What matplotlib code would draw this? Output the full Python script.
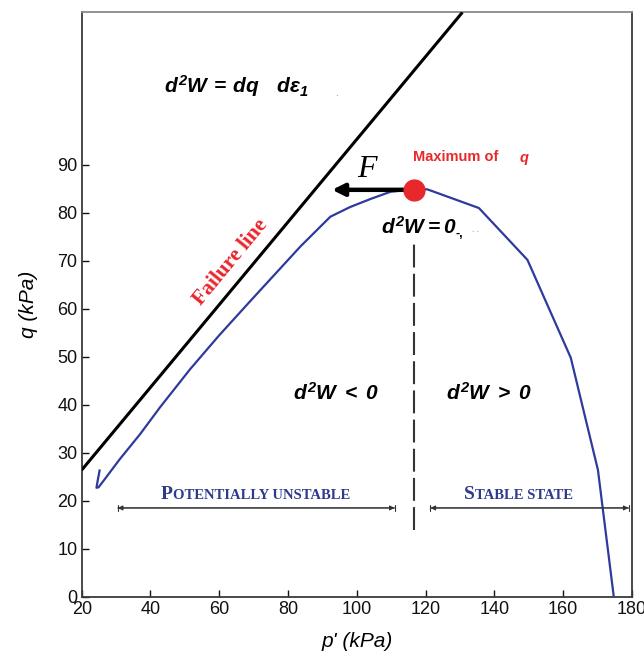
import matplotlib
matplotlib.use("Agg")
import matplotlib.pyplot as plt

plt.rcParams["font.family"] = ["Liberation Sans", "DejaVu Sans"]
plt.rcParams["mathtext.fontset"] = "custom"
plt.rcParams["mathtext.it"] = "Liberation Sans:bold:italic"
plt.rcParams["mathtext.rm"] = "Liberation Sans:bold:italic"
plt.rcParams["mathtext.bf"] = "Liberation Sans:bold:italic"

# Stress path (p', q) in kPa
p_path = [25.2, 24.5, 24.3, 24.9, 26.5, 31.0, 37.0, 42.8, 51.5, 60.0, 69.0, 76.3,
          83.6, 92.3, 98.0, 104.0, 109.8, 116.6, 120.5, 135.5, 149.6, 162.2, 170.1, 174.7]
q_path = [26.3, 23.6, 22.7, 22.8, 24.3, 28.6, 33.9, 39.5, 47.4, 54.5, 61.6, 67.3,
          73.0, 79.2, 81.2, 82.9, 84.4, 84.9, 84.9, 81.0, 70.2, 49.8, 26.4, 0.0]

# Failure line end points
p_fail = [20.0, 130.7]
q_fail = [26.4, 121.8]

# Peak of q and the arrow drawn from it
p_peak, q_peak = 116.6, 84.8
p_arrow_tip = 92.8

x_ticks = [20, 40, 60, 80, 100, 120, 140, 160, 180]
y_ticks = [0, 10, 20, 30, 40, 50, 60, 70, 80, 90]

fig = plt.figure(figsize=(6.44, 6.61), dpi=100)
ax = fig.add_axes([81.7 / 644, (661 - 596.7) / 661, (632 - 81.7) / 644, (596.7 - 12.3) / 661])
ax.set_xlim(20, 180)
ax.set_ylim(0, 121.8)

for s in ax.spines.values():
    s.set_linewidth(1.3)
    s.set_color("#3a3a3a")
ax.spines["top"].set_color("#8a8a8a")

ax.set_xticks(x_ticks)
ax.set_yticks(y_ticks)
ax.tick_params(direction="in", length=5, width=1.0, labelsize=13, pad=3, colors="#111111")
ax.tick_params(axis="both", top=False, right=False)

ax.set_xlabel("p' (kPa)", fontsize=15, style="italic", labelpad=10)
ax.set_ylabel("q (kPa)", fontsize=15, style="italic", labelpad=14)

# Failure line
ax.plot(p_fail, q_fail, color="black", lw=2.2, solid_capstyle="butt", zorder=3)
ax.text(63.2, 69.8, "Failure line", rotation=50.5, rotation_mode="anchor", ha="center", va="center",
        fontsize=15.5, fontweight="bold", family="Liberation Serif", color="#e8242c")

# Stress path
ax.plot(p_path, q_path, color="#2e3a9c", lw=1.6, zorder=3)

# Arrow from the peak and the peak marker
ax.annotate("", xy=(p_arrow_tip, q_peak), xytext=(p_peak, q_peak),
            arrowprops=dict(arrowstyle="-|>", lw=3.2, color="black", mutation_scale=18,
                            shrinkA=0, shrinkB=0), zorder=4)
ax.plot([p_peak], [q_peak], "o", color="#e8282b", markersize=15, mec="#e8282b", zorder=5)
ax.text(103.0, 89.0, "F", fontsize=23, style="italic", family="Liberation Serif",
        ha="center", va="center")
ax.text(116.2, 91.7, "Maximum of", fontsize=10.5, fontweight="bold", color="#e8282b",
        ha="left", va="center")
ax.text(147.2, 91.5, "q", fontsize=10.5, fontweight="bold", style="italic", color="#e8282b",
        ha="left", va="center")

# Energy criterion labels
ax.text(44.0, 106.5, r"$d^2W\,=\,dq\ \ \ d\varepsilon_1$", fontsize=15, ha="left", va="center")
ax.text(93.8, 105.0, ".", fontsize=7, color="#777777", ha="left", va="center")
ax.text(106.9, 77.0, r"$d^2W=0$", fontsize=15, ha="left", va="center")
ax.text(128.6, 75.6, "-,", fontsize=9, fontweight="bold", ha="left", va="center")
ax.text(133.5, 76.4, ". .", fontsize=6, color="#777777", ha="left", va="center")
ax.text(93.8, 42.5, r"$d^2W\;<\;0$", fontsize=15, ha="center", va="center")
ax.text(138.4, 42.5, r"$d^2W\;>\;0$", fontsize=15, ha="center", va="center")

# Vertical dashed separator at the peak
ax.plot([p_peak, p_peak], [13.9, 74.3], color="#333333", lw=1.5,
        linestyle=(0, (11, 3)), zorder=2)

# Range arrows
for a, b in [(30.5, 111.0), (121.4, 179.0)]:
    ax.annotate("", xy=(a, 18.5), xytext=(b, 18.5),
                arrowprops=dict(arrowstyle="|-|,widthA=0.22,widthB=0.22", lw=0.8, color="#333333",
                                shrinkA=0, shrinkB=0))
    ax.annotate("", xy=(a, 18.5), xytext=(b, 18.5),
                arrowprops=dict(arrowstyle="<|-|>", lw=0.8, color="#333333", mutation_scale=7,
                                shrinkA=0, shrinkB=0))


def small_caps(xc, y, parts, color="#2e3a8a"):
    """Draw a centred small-caps label from (text, size) parts on one baseline."""
    renderer = fig.canvas.get_renderer()
    arts, widths = [], []
    for s, size in parts:
        t = ax.text(0, y, s, fontsize=size, fontweight="bold", family="Liberation Serif",
                    color=color, ha="left", va="baseline")
        arts.append(t)
        widths.append(t.get_window_extent(renderer).width)
    x0, yp = ax.transData.transform((xc, y))
    x0 -= sum(widths) / 2
    inv = ax.transData.inverted()
    for t, w in zip(arts, widths):
        t.set_x(inv.transform((x0, yp))[0])
        x0 += w


small_caps(70.5, 20.3, [("P", 14), ("OTENTIALLY UNSTABLE", 10.5)])
small_caps(147.1, 20.3, [("S", 14), ("TABLE STATE", 10.5)])

fig.savefig("out.png", dpi=100)
